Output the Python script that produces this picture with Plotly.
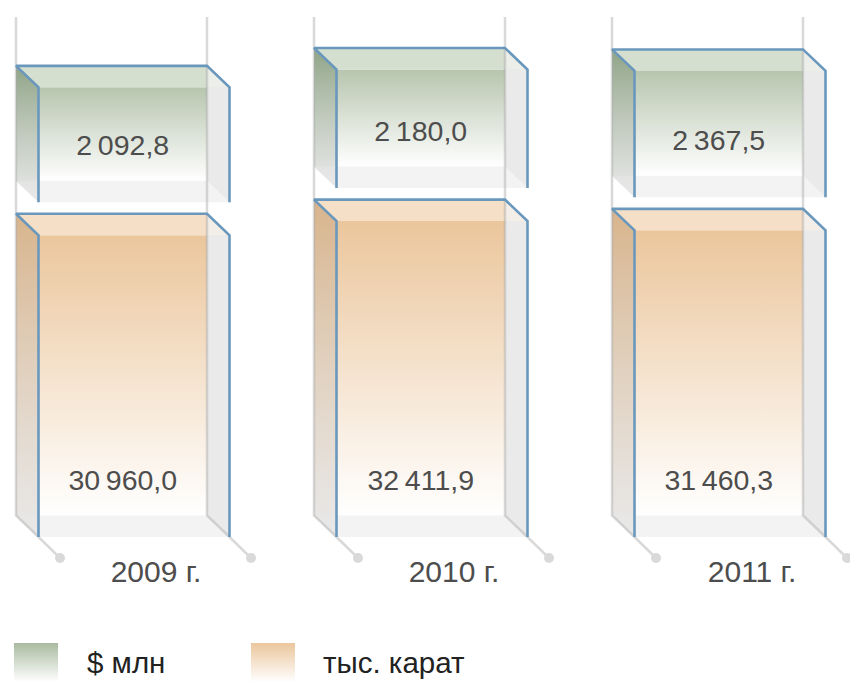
import plotly.graph_objects as go

# ---- data ----
years = ["2009 г.", "2010 г.", "2011 г."]
carats = [30960.0, 32411.9, 31460.3]
usd = [2092.8, 2180.0, 2367.5]
carat_labels = ["30\u2009960,0", "32\u2009411,9", "31\u2009460,3"]
usd_labels = ["2\u2009092,8", "2\u2009180,0", "2\u2009367,5"]
legend_names = ["$ млн", "тыс. карат"]

# ---- style / scale ----
W, H = 850, 682
FONT = "Liberation Sans"
CARAT_PER_PX = 102.6
BASE_PX = 537            # pixel row of value 0 on the front face
STEP = [0, 298, 596]
X0, BODY, DX, DY = 16, 191, 22.5, 21.5
GAP = 33
USD_CAP = 27.0           # green box: fixed cap + proportional part (px)
USD_PX = 0.0420
BLUE = "#6a98bd"
RAIL = "rgba(170,170,170,0.45)"
U = CARAT_PER_PX


def Y(px_up):
    return px_up * U


fig = go.Figure()


def poly(xs, ys, color=None, grad=None):
    kw = dict(x=xs + xs[:1], y=[Y(v) for v in ys + ys[:1]], mode="lines",
              line=dict(width=0), fill="toself", hoverinfo="skip", showlegend=False)
    if grad:
        kw["fillgradient"] = dict(type="vertical", colorscale=[[0, grad[0]], [1, grad[1]]])
    else:
        kw["fillcolor"] = color
    fig.add_trace(go.Scatter(**kw))


def line(xs, ys, color, width):
    fig.add_trace(go.Scatter(x=xs, y=[Y(v) for v in ys], mode="lines",
                             line=dict(color=color, width=width), hoverinfo="skip", showlegend=False))


def box(x, bottom, height, center, side, top):
    # bottom/height in px above baseline, measured on the front face
    xl, xr = x, x + BODY
    fl, fr = xl + DX, xr + DX
    ftop = bottom + height
    btop = ftop + DY
    bbot = bottom + DY
    poly([fl, xr, xr, fl], [bbot, bbot, ftop, ftop], grad=("#ffffff", center))
    poly([xl, fl, fl, xl], [btop, ftop, bottom, bbot], grad=("rgba(225,225,225,0.75)", side))
    poly([xl, xr, fr, fl], [btop, btop, ftop, ftop], color=top)
    poly([xr, fr, xr], [btop, ftop, ftop], color="rgba(243,243,243,0.75)")
    poly([xr, fr, fr, xr], [ftop, ftop, bottom, bbot], color="rgba(225,225,225,0.7)")
    poly([xl, xr, fr, fl], [bbot, bbot, bottom, bottom], color="rgba(232,232,232,0.5)")
    return xl, xr, fl, fr, ftop, btop


blue = []
for i, yr in enumerate(years):
    x = X0 + STEP[i]
    orange_h = carats[i] / CARAT_PER_PX
    green_h = USD_CAP + usd[i] * USD_PX
    green_bot = orange_h + GAP
    o = box(x, 0, orange_h, "#ebc69c", "#d8b48c", "#f5dfc6")
    g = box(x, green_bot, green_h, "#b7c5ae", "#8fa487", "#d5dfd0")
    blue.append((o, 0))
    blue.append((g, green_bot))

for s in STEP:
    x = X0 + s
    for xx in (x, x + BODY):
        line([xx, xx, xx + DX, xx + DX + 21.5],
             [BASE_PX - 17, DY, 0, -21], RAIL, 2.5)
        fig.add_trace(go.Scatter(x=[xx + DX + 21.5], y=[Y(-21)], mode="markers",
                                 marker=dict(color="#d9d9d9", size=10), hoverinfo="skip", showlegend=False))

for (xl, xr, fl, fr, ftop, btop), bottom in blue:
    line([fl, fl, xl, xr, fr, fr], [bottom, ftop, btop, btop, ftop, bottom], BLUE, 2.6)

# value labels
cx = [X0 + s + (BODY + DX) / 2 for s in STEP]
fig.add_trace(go.Scatter(x=cx, y=[Y(54)] * 3, mode="text", text=carat_labels,
                         textposition="middle center",
                         textfont=dict(family=FONT, size=28.5, color="#4d4d4d"),
                         hoverinfo="skip", showlegend=False))
fig.add_trace(go.Scatter(x=cx, y=[Y(c / CARAT_PER_PX + GAP + 54) for c in carats], mode="text", text=usd_labels,
                         textposition="middle center",
                         textfont=dict(family=FONT, size=28.5, color="#4d4d4d"),
                         hoverinfo="skip", showlegend=False))
# year labels
fig.add_trace(go.Scatter(x=[X0 + s + 140 for s in STEP], y=[Y(-37)] * 3, mode="text", text=years,
                         textposition="middle center",
                         textfont=dict(family=FONT, size=30, color="#4d4d4d"),
                         hoverinfo="skip", showlegend=False))

# legend
poly([14, 58, 58, 14], [-106, -106, -145, -145], grad=("#ffffff", "#a9bba0"))
poly([251, 295, 295, 251], [-106, -106, -145, -145], grad=("#ffffff", "#ebc69c"))
fig.add_trace(go.Scatter(x=[87, 323], y=[Y(-128.5)] * 2, mode="text", text=legend_names,
                         textposition="middle right", cliponaxis=False,
                         textfont=dict(family=FONT, size=29.5, color="#222222"),
                         hoverinfo="skip", showlegend=False))

fig.update_layout(
    width=W, height=H, margin=dict(l=0, r=0, t=0, b=0),
    paper_bgcolor="white", plot_bgcolor="white",
    xaxis=dict(range=[0, W], visible=False, fixedrange=True),
    yaxis=dict(range=[Y(BASE_PX - H), Y(BASE_PX)], visible=False, fixedrange=True),
)
fig.write_html("out.html", config=dict(displayModeBar=False),
               post_script="document.body.style.margin='0';")
